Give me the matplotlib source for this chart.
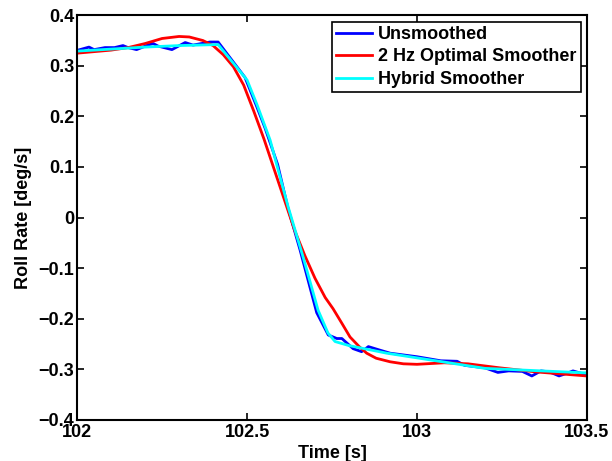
import matplotlib.pyplot as plt
import numpy as np

plt.rcParams['font.family'] = ['Liberation Sans', 'DejaVu Sans']
plt.rcParams['font.weight'] = 'bold'

# Unsmoothed roll rate
t_raw = [102.003, 102.035, 102.05, 102.082, 102.11, 102.135, 102.15, 102.175,
         102.208, 102.224, 102.238, 102.279, 102.318, 102.341, 102.391, 102.415,
         102.494, 102.527, 102.553, 102.59, 102.62, 102.656, 102.705, 102.739,
         102.764, 102.779, 102.812, 102.837, 102.857, 102.891, 102.921, 103.0,
         103.07, 103.118, 103.14, 103.2, 103.238, 103.27, 103.31, 103.338,
         103.365, 103.39, 103.418, 103.44, 103.459, 103.5]
y_raw = [0.331, 0.337, 0.332, 0.336, 0.336, 0.340, 0.336, 0.332,
         0.341, 0.344, 0.339, 0.332, 0.346, 0.341, 0.347, 0.347,
         0.277, 0.222, 0.177, 0.105, 0.020, -0.064, -0.188, -0.232,
         -0.239, -0.239, -0.259, -0.265, -0.255, -0.262, -0.268, -0.275,
         -0.283, -0.284, -0.292, -0.297, -0.306, -0.303, -0.304, -0.313,
         -0.303, -0.305, -0.313, -0.308, -0.303, -0.311]

# 2 Hz optimal smoother
t_opt = [102.0, 102.05, 102.1, 102.15, 102.2, 102.25, 102.3, 102.33, 102.37,
         102.40, 102.43, 102.46, 102.49, 102.52, 102.55, 102.58, 102.61, 102.64,
         102.67, 102.70, 102.73, 102.753, 102.78, 102.803, 102.83, 102.852,
         102.88, 102.921, 102.96, 103.0, 103.08, 103.15, 103.244, 103.35, 103.5]
y_opt = [0.325, 0.328, 0.331, 0.336, 0.344, 0.354, 0.358, 0.357, 0.350,
         0.340, 0.322, 0.298, 0.262, 0.210, 0.155, 0.095, 0.035, -0.025,
         -0.075, -0.120, -0.158, -0.180, -0.210, -0.236, -0.255, -0.268,
         -0.278, -0.285, -0.289, -0.290, -0.287, -0.289, -0.297, -0.305, -0.313]

# hybrid smoother
t_hyb = [102.0, 102.1, 102.2, 102.3, 102.415, 102.5, 102.53, 102.568, 102.621,
         102.665, 102.709, 102.738, 102.759, 102.8, 102.911, 103.2, 103.5]
y_hyb = [0.329, 0.333, 0.337, 0.340, 0.342, 0.272, 0.222, 0.153, 0.021,
         -0.078, -0.183, -0.228, -0.245, -0.253, -0.268, -0.298, -0.307]

fig = plt.figure(figsize=(6.12, 4.61), dpi=100)
ax = fig.add_axes([0.126, 0.089, 0.833, 0.878])

ax.plot(t_raw, y_raw, color='#0000ff', lw=2, label='Unsmoothed')
ax.plot(t_opt, y_opt, color='#ff0000', lw=2, label='2 Hz Optimal Smoother')
ax.plot(t_hyb, y_hyb, color='#00ffff', lw=2, label='Hybrid Smoother')

ax.set_xlim(102, 103.5)
ax.set_ylim(-0.4, 0.4)
xt = [102, 102.5, 103, 103.5]
ax.set_xticks(xt)
ax.set_xticklabels(['102', '102.5', '103', '103.5'])
yt = np.round(np.arange(-0.4, 0.41, 0.1), 1)
ax.set_yticks(yt)
ax.set_yticklabels(['0' if v == 0 else ('%g' % v).replace('-', '\u2212') for v in yt])
ax.tick_params(direction='in', top=True, right=True, labelsize=13, length=5,
               width=1.2)
ax.tick_params(axis='x', pad=3)
ax.tick_params(axis='y', pad=2)
for s in ax.spines.values():
    s.set_linewidth(1.5)

ax.set_xlabel('Time [s]', fontsize=13, fontweight='bold', labelpad=3)
ax.set_ylabel('Roll Rate [deg/s]', fontsize=13, fontweight='bold', labelpad=5)

leg = ax.legend(loc='upper right', fontsize=13, fancybox=False, framealpha=1,
                edgecolor='k', borderaxespad=0.35, handlelength=2.0,
                handletextpad=0.3, labelspacing=0.3, borderpad=0.25)
leg.get_frame().set_linewidth(1.2)

fig.savefig('out.png', dpi=100)
